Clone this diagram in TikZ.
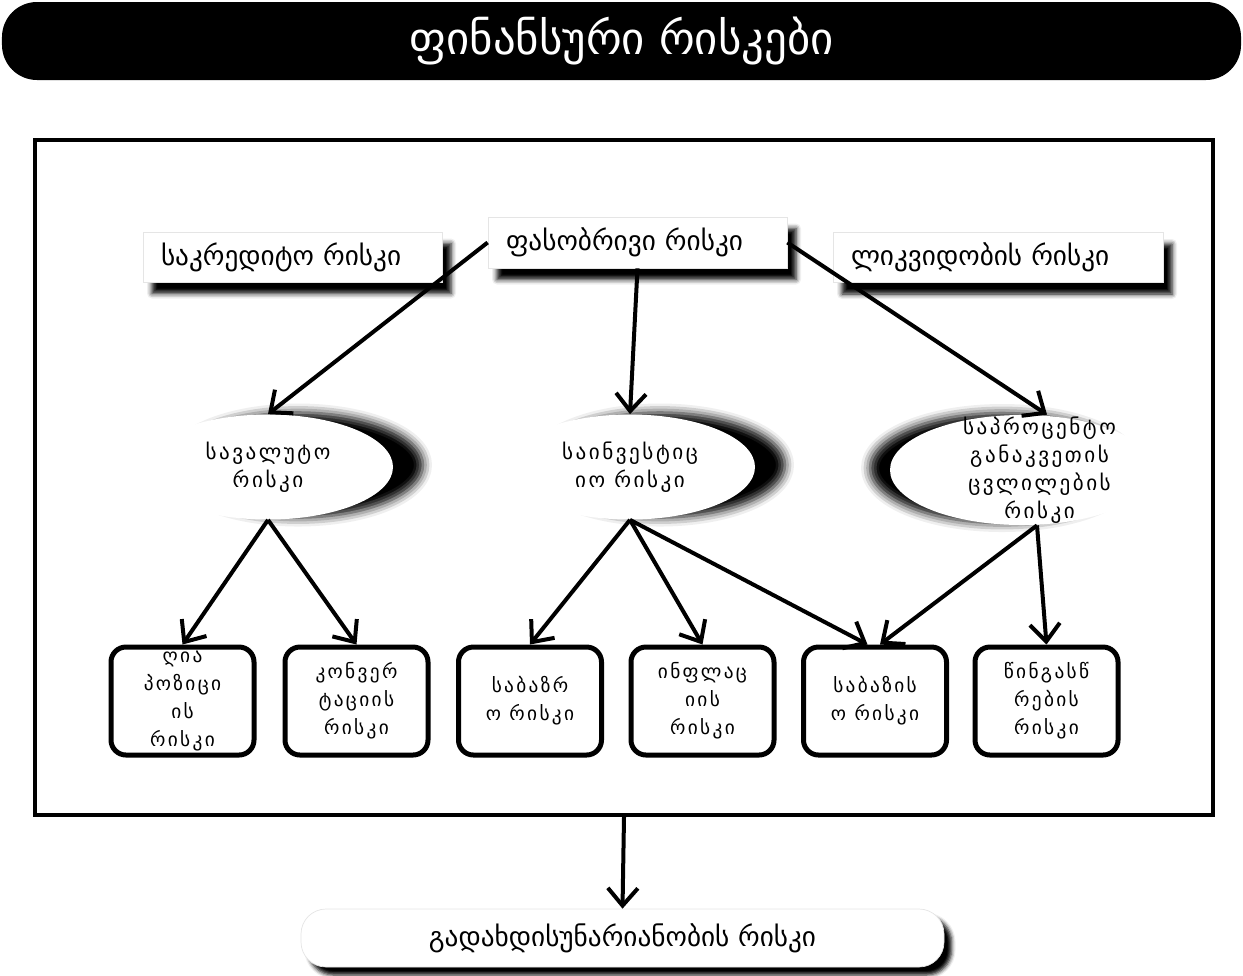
\documentclass[tikz,border=0pt]{standalone}
\usepackage{fontspec}
\setmainfont{DejaVu Sans}
\newfontfamily\geospaced[LetterSpace=12]{DejaVu Sans}
\usetikzlibrary{shapes.geometric, arrows.meta, shadows.blur}

\begin{document}
\begin{tikzpicture}[x=0.2mm, y=-0.2mm,
  every node/.style={inner sep=0pt},
  titlebar/.style={fill=black, rounded corners=7mm, minimum width=247.8mm, minimum height=15.6mm, text=white, font=\fontsize{25.5}{30}\selectfont},
  frame/.style={draw, line width=0.8mm, minimum width=235.6mm, minimum height=135mm},
  topbox/.style={fill=white, draw=gray!20, minimum height=10mm, inner xsep=3.6mm, align=left, font=\fontsize{15.5}{18}\selectfont, blur shadow={shadow xshift=1.8mm, shadow yshift=-2.3mm, shadow blur radius=1mm, shadow opacity=100}},
  riskellipse/.style={ellipse, fill=white, minimum width=50mm, minimum height=21mm, blur shadow={shadow xshift=#1, shadow yshift=0.4mm, shadow blur radius=1.8mm, shadow opacity=100}},
  riskellipse/.default=6mm,
  elltext/.style={align=center, font=\geospaced\fontsize{12}{16}\selectfont},
  leafbox/.style={draw, line width=1mm, rounded corners=3mm, fill=white, minimum width=28.6mm, minimum height=21.6mm, align=center, font=\geospaced\fontsize{11}{15.9}\selectfont},
  lastbox/.style={fill=white, draw=gray!20, rounded corners=5mm, minimum width=128.6mm, minimum height=11.6mm, font=\fontsize{15.5}{18}\selectfont, blur shadow={shadow xshift=1.5mm, shadow yshift=-1.6mm, shadow blur radius=0.8mm, shadow opacity=100}},
  arr/.style={-{Straight Barb[length=3.5mm,width=6mm]}, line width=0.8mm}]
  \useasboundingbox (0,0) rectangle (1243,975);
  \node[titlebar] (title) at (621.5,41) {ფინანსური რისკები};
  \node[frame] (frame) at (624,477.5) {};
  \node[topbox, minimum width=59.8mm, text width=52.6mm] (kredit) at (292.5,257) {საკრედიტო რისკი};
  \node[topbox, minimum width=59.8mm, text width=52.6mm, minimum height=10.2mm] (fasob) at (637.5,242.5) {ფასობრივი რისკი};
  \node[topbox, minimum width=66mm, text width=58.8mm] (likvid) at (998,257.5) {ლიკვიდობის რისკი};
  \node[riskellipse] (valuta) at (268,467) {};
  \node[elltext] (valuta-t) at (valuta) {სავალუტო\\რისკი};
  \node[riskellipse] (invest) at (630,467) {};
  \node[elltext] (invest-t) at (invest) {საინვესტიც\\იო რისკი};
  \node[riskellipse=-4mm, minimum width=52.8mm, minimum height=22mm] (procent) at (1022,470) {};
  \node[elltext] (procent-t) at ([xshift=3.5mm]procent.center) {საპროცენტო\\განაკვეთის\\ცვლილების\\რისკი};
  \node[leafbox] (ghia) at (182.5,701) {ღია\\პოზიცი\\ის\\რისკი};
  \node[leafbox] (konver) at (356.5,701) {კონვერ\\ტაციის\\რისკი};
  \node[leafbox] (sabazr) at (530,701) {საბაზრ\\ო რისკი};
  \node[leafbox] (inflac) at (702.5,701) {ინფლაც\\იის\\რისკი};
  \node[leafbox] (sabaz) at (875,701) {საბაზის\\ო რისკი};
  \node[leafbox] (tsin) at (1046.5,701) {წინგასწ\\რების\\რისკი};
  \node[lastbox] (gadakh) at (622.5,938) {გადახდისუნარიანობის რისკი};
  \draw[arr] (fasob.west) -- (valuta.north);
  \draw[arr] (fasob.south) -- (invest.north);
  \draw[arr] (fasob.east) -- ([xshift=5mm]procent.north);
  \draw[arr] (valuta.south) -- (ghia.north);
  \draw[arr] (valuta.south) -- (konver.north);
  \draw[arr] (invest.south) -- (sabazr.north);
  \draw[arr] (invest.south) -- (inflac.north);
  \draw[arr] (invest.south) -- ([xshift=-1.5mm]sabaz.north);
  \draw[arr] ([xshift=3mm]procent.south) -- ([xshift=1mm]sabaz.north);
  \draw[arr] ([xshift=3mm]procent.south) -- (tsin.north);
  \draw[arr] (frame.south) -- (gadakh.north);
\end{tikzpicture}
\end{document}
